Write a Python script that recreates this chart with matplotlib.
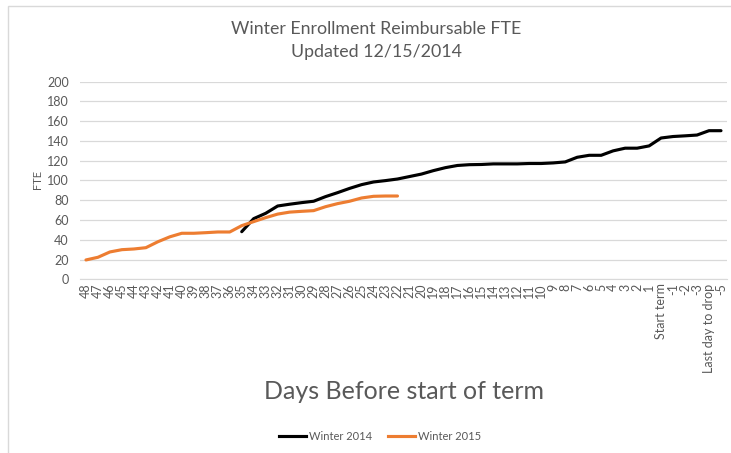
import numpy as np
import matplotlib
matplotlib.use("Agg")
import matplotlib.pyplot as plt
from matplotlib.patches import Rectangle
from matplotlib.lines import Line2D

categories = [str(d) for d in range(48, 0, -1)] + ["Start term", "-1", "-2", "-3", "Last day to drop", "-5"]

# Winter 2014 starts at day 35
winter_2014_start = "35"
winter_2014 = [48.2, 61.4, 66.8, 74.2, 76.0, 77.6, 79.0, 83.7, 87.7, 92.0, 95.8, 98.5,
               99.9, 101.5, 104.0, 106.5, 110.0, 113.0, 115.2, 116.0, 116.2, 116.8,
               116.8, 116.8, 117.2, 117.2, 117.8, 118.8, 123.5, 125.5, 125.5, 130.0,
               132.7, 132.7, 135.0, 143.0, 144.5, 145.2, 146.0, 150.4, 150.4]

# Winter 2015 from day 48 to day 22
winter_2015 = [19.6, 22.3, 27.7, 30.0, 30.7, 32.0, 38.0, 43.0, 46.6, 46.6, 47.2, 47.9,
               47.9, 54.3, 58.4, 62.4, 66.0, 68.0, 68.8, 69.5, 73.5, 76.6, 79.0, 82.3,
               84.0, 84.3, 84.3]

y_ticks = [0, 20, 40, 60, 80, 100, 120, 140, 160, 180, 200]

font = "Lato"
grey = "#595959"

fig = plt.figure(figsize=(7.31, 4.53), dpi=100)
ax = fig.add_axes([0.1094, 0.3834, 0.8851, 0.4363])

x = np.arange(len(categories))
s14 = categories.index(winter_2014_start)
ax.plot(x[s14:s14 + len(winter_2014)], winter_2014, color="#000000", lw=2.25,
        solid_joinstyle="round", solid_capstyle="round")
ax.plot(x[:len(winter_2015)], winter_2015, color="#ED7D31", lw=2.25,
        solid_joinstyle="round", solid_capstyle="round")

ax.set_xlim(-0.5, len(categories) - 0.5)
ax.set_ylim(0, 200)
ax.set_yticks(y_ticks)
ax.set_yticklabels([str(v) for v in y_ticks], fontsize=9, color=grey, family=font)
ax.set_xticks(x)
ax.set_xticklabels(categories, rotation=90, fontsize=9, color=grey, family=font)
ax.tick_params(axis="both", length=0, pad=3)
ax.tick_params(axis="y", pad=8)
ax.grid(axis="y", color="#d9d9d9", lw=0.9)
ax.set_axisbelow(True)
for sp in ["top", "right", "left"]:
    ax.spines[sp].set_visible(False)
ax.spines["bottom"].set_color("#d9d9d9")

fig.text(0.515, 0.935, "Winter Enrollment Reimbursable FTE", ha="center", va="center",
         fontsize=12.8, color=grey, family=font)
fig.text(0.515, 0.885, "Updated 12/15/2014", ha="center", va="center",
         fontsize=12.8, color=grey, family=font)
fig.text(0.051, 0.603, "FTE", rotation=90, ha="center", va="center",
         fontsize=8, color=grey, family=font)
fig.text(0.553, 0.135, "Days Before start of term", ha="center", va="center",
         fontsize=18, color=grey, family=font)

handles = [Line2D([], [], color="#000000", lw=2.25), Line2D([], [], color="#ED7D31", lw=2.25)]
leg = fig.legend(handles, ["Winter 2014", "Winter 2015"], loc="center",
                 bbox_to_anchor=(0.52, 0.037), ncol=2, frameon=False,
                 prop={"family": font, "size": 8}, handlelength=2.4,
                 handletextpad=0.25, columnspacing=1.5)
for t in leg.get_texts():
    t.set_color(grey)

fig.patches.append(Rectangle((0.011, -0.01), 1.2, 0.997, transform=fig.transFigure,
                             fill=False, edgecolor="#d9d9d9", lw=1.0))

fig.savefig("out.png", dpi=100, facecolor="white")
